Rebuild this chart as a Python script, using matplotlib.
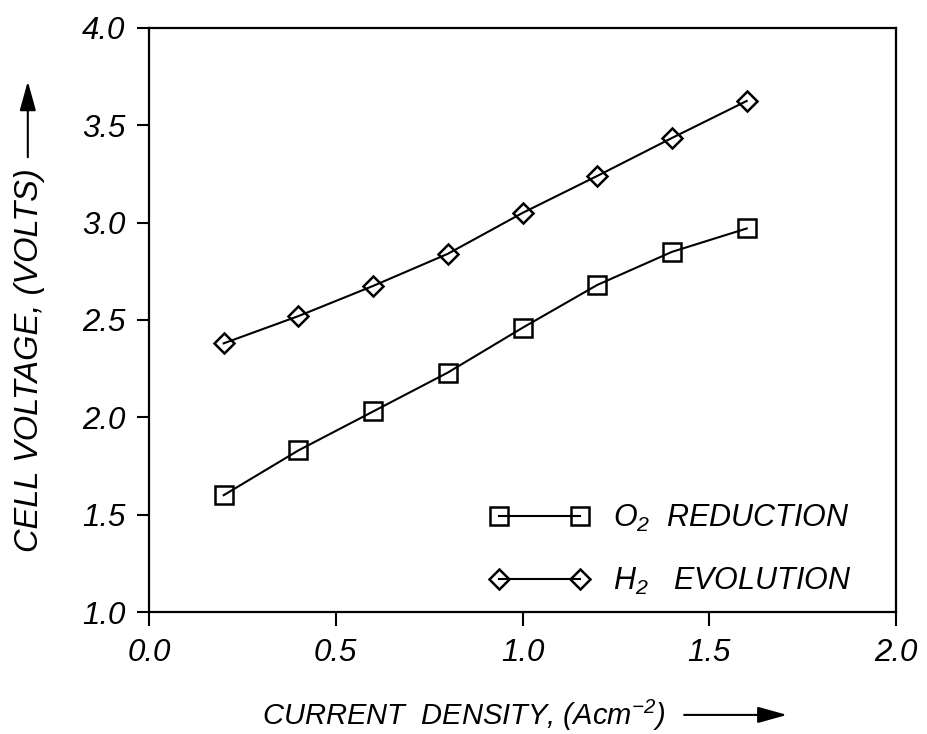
import numpy as np
import matplotlib.pyplot as plt
from matplotlib.patches import FancyArrowPatch

# values
current = [0.2, 0.4, 0.6, 0.8, 1.0, 1.2, 1.4, 1.6]
o2_reduction = [1.60, 1.83, 2.03, 2.23, 2.46, 2.68, 2.85, 2.97]
h2_evolution = [2.38, 2.52, 2.675, 2.84, 3.05, 3.24, 3.435, 3.625]
xticks = [0.0, 0.5, 1.0, 1.5, 2.0]
yticks = [1.0, 1.5, 2.0, 2.5, 3.0, 3.5, 4.0]

plt.rcParams['font.family'] = ['Liberation Sans', 'DejaVu Sans']
plt.rcParams['font.style'] = 'italic'
plt.rcParams['mathtext.fontset'] = 'custom'
plt.rcParams['mathtext.it'] = 'Liberation Sans:italic'
plt.rcParams['mathtext.rm'] = 'Liberation Sans:italic'

fig = plt.figure(figsize=(9.27, 7.34), dpi=100)
ax = fig.add_axes([0.1607, 0.1662, 0.806, 0.7957])

lw = 1.5
ax.plot(current, o2_reduction, color='black', lw=lw, marker='s', ms=12.5,
        mfc='none', mec='black', mew=1.8, label='$O_2$  REDUCTION')
ax.plot(current, h2_evolution, color='black', lw=lw, marker='D', ms=10,
        mfc='none', mec='black', mew=1.8, label='$H_2$   EVOLUTION')

ax.set_xlim(0, 2.0)
ax.set_ylim(1.0, 4.0)
ax.set_xticks(xticks)
ax.set_yticks(yticks)
ax.set_xticklabels([f"{t:.1f}" for t in xticks])
ax.set_yticklabels([f"{t:.1f}" for t in yticks])
ax.tick_params(direction='out', length=9, width=1.5, labelsize=22.5, pad=8,
               top=False, right=False)
ax.tick_params(axis='x', length=10, pad=9)
for s in ax.spines.values():
    s.set_linewidth(1.6)

leg = ax.legend(loc='center left', bbox_to_anchor=(0.456, 0.106), frameon=False,
                numpoints=2, handlelength=3.25, handletextpad=0.8,
                labelspacing=1.05, fontsize=22, borderpad=0, borderaxespad=0)

fig.text(0.283, 0.012, 'CURRENT  DENSITY, (Acm$^{-2}$)', fontsize=21,
         ha='left', va='baseline')
fig.text(0.032, 0.51, 'CELL VOLTAGE, (VOLTS)', fontsize=23.5,
         rotation=90, ha='center', va='center')

# the arrows next to the axis titles
arrow_style = dict(arrowstyle='-|>,head_length=0.9,head_width=0.25', color='black', lw=1.5)
fig.add_artist(FancyArrowPatch((0.735, 0.026), (0.852, 0.026),
                               transform=fig.transFigure, mutation_scale=20, **arrow_style))
fig.add_artist(FancyArrowPatch((0.030, 0.782), (0.030, 0.893),
                               transform=fig.transFigure, mutation_scale=20, **arrow_style))

plt.savefig("out.png", dpi=100)
